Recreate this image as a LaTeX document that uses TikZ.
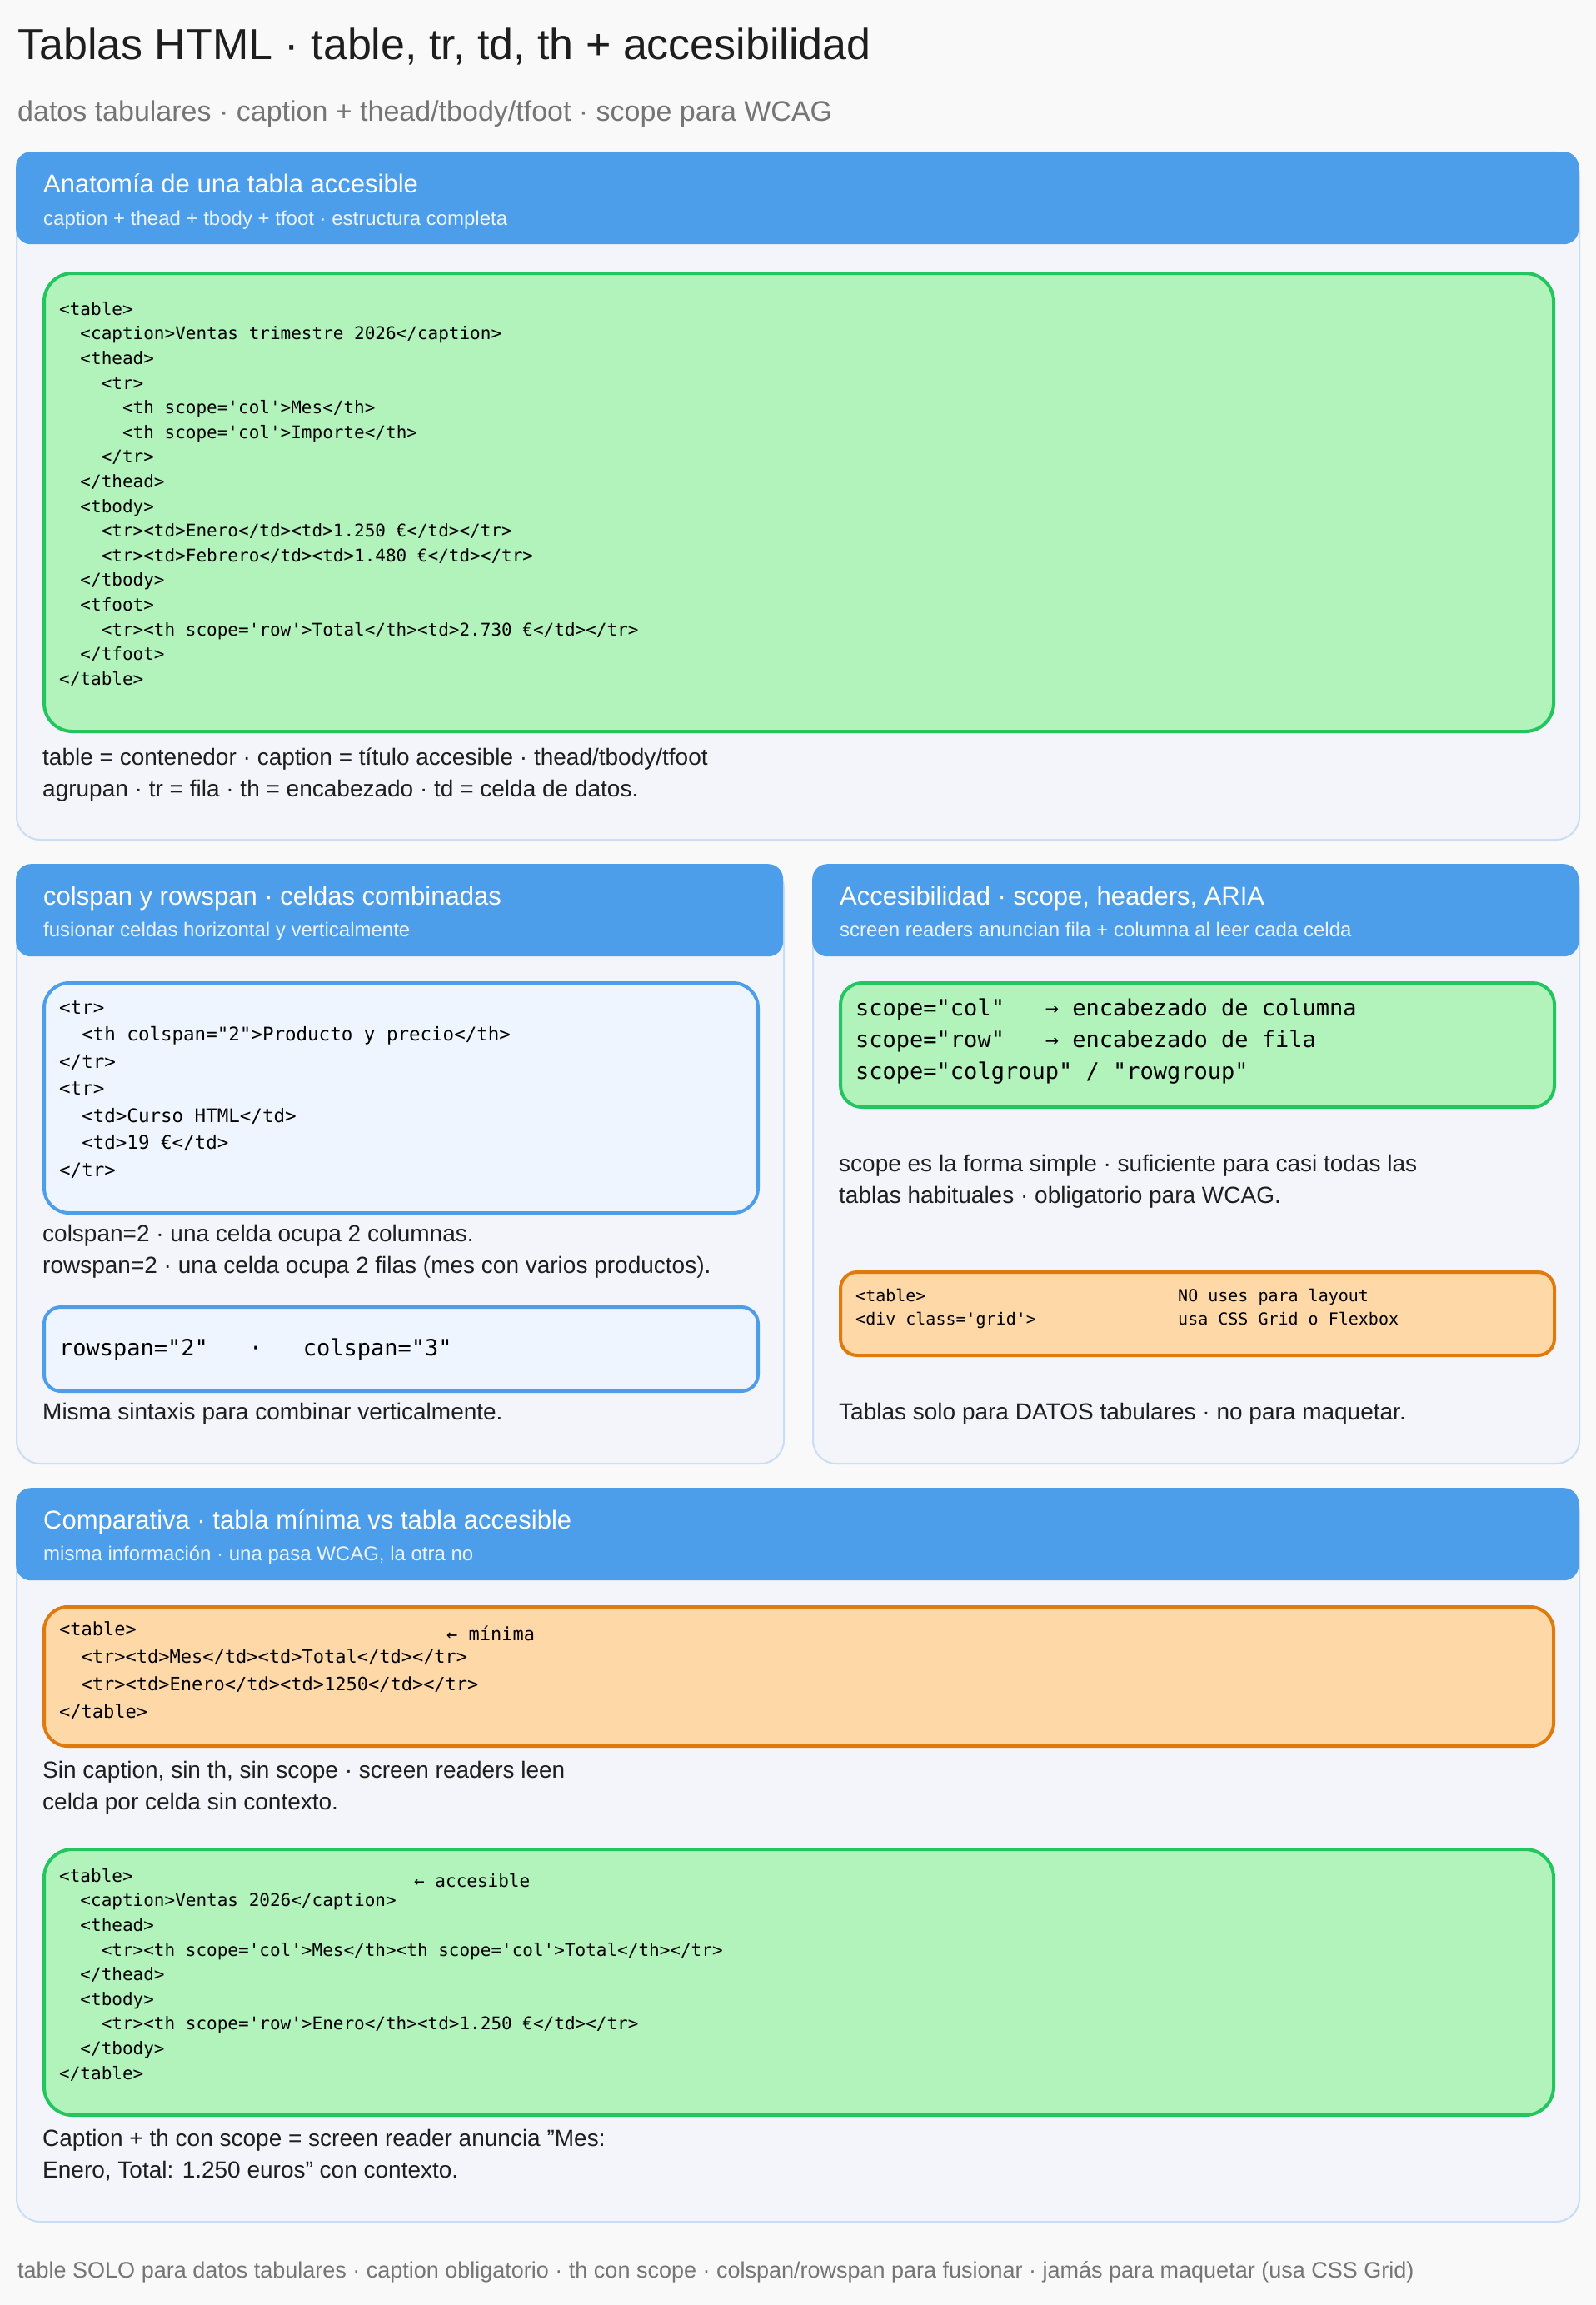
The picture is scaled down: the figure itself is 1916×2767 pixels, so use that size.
\documentclass[tikz,border=0pt]{standalone}
\usepackage{fontspec}
\setmainfont{Liberation Sans}
\setmonofont{DejaVu Sans Mono}
\definecolor{bgc}{HTML}{F9F9F9}
\definecolor{panelc}{HTML}{F3F5FA}
\definecolor{paneld}{HTML}{C9DDF5}
\definecolor{headc}{HTML}{4C9EEB}
\definecolor{greenf}{HTML}{B2F2BB}
\definecolor{greend}{HTML}{22C55E}
\definecolor{orangef}{HTML}{FFD8A8}
\definecolor{oranged}{HTML}{DE7A0E}
\definecolor{bluef}{HTML}{EFF5FF}
\definecolor{inkc}{HTML}{1E1E1E}
\definecolor{grayc}{HTML}{757575}
\newcommand\fsz[1]{\fontsize{#1}{#1}\selectfont}
\tikzset{
  panel/.style={rectangle, rounded corners=28pt, draw=paneld, line width=2pt, fill=panelc, anchor=north west, inner sep=0pt},
  head/.style={rectangle, rounded corners=18pt, fill=headc, anchor=north west, inner sep=0pt},
  greenbox/.style={rectangle, rounded corners=34pt, draw=greend, line width=4pt, fill=greenf, anchor=north west, inner sep=0pt},
  orangebox/.style={rectangle, rounded corners=28pt, draw=oranged, line width=4pt, fill=orangef, anchor=north west, inner sep=0pt},
  bluebox/.style={rectangle, rounded corners=30pt, draw=headc, line width=4pt, fill=bluef, anchor=north west, inner sep=0pt},
  htitle/.style={anchor=base west, inner sep=0pt, text=white, font=\fsz{31}},
  hsub/.style={anchor=base west, inner sep=0pt, text=white!88!headc, font=\fsz{24}},
  body/.style={anchor=north west, inner sep=0pt, text=inkc, align=left, font=\fontsize{28}{37.5}\selectfont},
  code/.style={anchor=north west, inner sep=0pt, text=black, align=left, font=\ttfamily\fontsize{21}{29.6}\selectfont},
}
\begin{document}
\begin{tikzpicture}[x=1pt,y=-1pt]
\fill[bgc] (0,0) rectangle (1916,2767);
\useasboundingbox (0,0) rectangle (1916,2767);
% title
\node[anchor=base west, inner sep=0pt, text=inkc, font=\fsz{52}] (title) at (21,72) {Tablas HTML · table, tr, td, th + accesibilidad};
\node[anchor=base west, inner sep=0pt, text=grayc, font=\fsz{34}] (subtitle) at (21,146) {datos tabulares · caption + thead/tbody/tfoot · scope para WCAG};

% panel 1
\node[panel, minimum width=1876pt, minimum height=825pt] (p1) at (19,182) {};
\node[head, minimum width=1876pt, minimum height=111pt] (h1) at (19,182) {};
\node[htitle] (h1t) at (52,232) {Anatomía de una tabla accesible};
\node[hsub] (h1s) at (52,270) {caption + thead + tbody + tfoot · estructura completa};
\node[greenbox, minimum width=1812pt, minimum height=550pt] (c1) at (51,326) {};
\node[code] (c1t) at (71,362) {<table>\\
\ \ <caption>Ventas trimestre 2026</caption>\\
\ \ <thead>\\
\ \ \ \ <tr>\\
\ \ \ \ \ \ <th scope='col'>Mes</th>\\
\ \ \ \ \ \ <th scope='col'>Importe</th>\\
\ \ \ \ </tr>\\
\ \ </thead>\\
\ \ <tbody>\\
\ \ \ \ <tr><td>Enero</td><td>1.250 €</td></tr>\\
\ \ \ \ <tr><td>Febrero</td><td>1.480 €</td></tr>\\
\ \ </tbody>\\
\ \ <tfoot>\\
\ \ \ \ <tr><th scope='row'>Total</th><td>2.730 €</td></tr>\\
\ \ </tfoot>\\
</table>};
\node[body] (t1) at (51,898) {table = contenedor · caption = título accesible · thead/tbody/tfoot\\agrupan · tr = fila · th = encabezado · td = celda de datos.};

% panel 2
\node[panel, minimum width=921pt, minimum height=719pt] (p2) at (19,1037) {};
\node[head, minimum width=921pt, minimum height=111pt] (h2) at (19,1037) {};
\node[htitle] (h2t) at (52,1086) {colspan y rowspan · celdas combinadas};
\node[hsub] (h2s) at (52,1124) {fusionar celdas horizontal y verticalmente};
\node[bluebox, minimum width=857pt, minimum height=276pt] (c2) at (51,1178) {};
\node[code, font=\ttfamily\fontsize{22.5}{32.5}\selectfont] (c2t) at (71,1201) {<tr>\\
\ \ <th colspan="2">Producto y precio</th>\\
</tr>\\
<tr>\\
\ \ <td>Curso HTML</td>\\
\ \ <td>19 €</td>\\
</tr>};
\node[body] (t2) at (51,1470) {colspan=2 · una celda ocupa 2 columnas.\\rowspan=2 · una celda ocupa 2 filas (mes con varios productos).};
\node[bluebox, minimum width=857pt, minimum height=101pt, rounded corners=20pt] (c3) at (51,1567) {};
\node[anchor=base west, inner sep=0pt, font=\ttfamily\fsz{27}] (c3t) at (71,1627) {rowspan="2"\ \ \ ·\ \ \ colspan="3"};
\node[body] (t3) at (51,1684) {Misma sintaxis para combinar verticalmente.};

% panel 3
\node[panel, minimum width=920pt, minimum height=719pt] (p3) at (975,1037) {};
\node[head, minimum width=920pt, minimum height=111pt] (h3) at (975,1037) {};
\node[htitle] (h3t) at (1008,1086) {Accesibilidad · scope, headers, ARIA};
\node[hsub] (h3s) at (1008,1124) {screen readers anuncian fila + columna al leer cada celda};
\node[greenbox, minimum width=857pt, minimum height=149pt, rounded corners=26pt] (c4) at (1007,1178) {};
\node[code, font=\ttfamily\fontsize{27}{38}\selectfont] (c4t) at (1027,1199) {scope="col"\ \ \ → encabezado de columna\\
scope="row"\ \ \ → encabezado de fila\\
scope="colgroup" / "rowgroup"};
\node[body] (t4) at (1007,1386) {scope es la forma simple · suficiente para casi todas las\\tablas habituales · obligatorio para WCAG.};
\node[orangebox, minimum width=857pt, minimum height=100pt, rounded corners=20pt] (c5) at (1007,1525) {};
\node[code, font=\ttfamily\fontsize{20}{28}\selectfont] (c5a) at (1027,1547) {<table>\\<div class='grid'>};
\node[code, font=\ttfamily\fontsize{20}{28}\selectfont] (c5b) at (1414,1547) {NO uses para layout\\usa CSS Grid o Flexbox};
\node[body] (t5) at (1007,1684) {Tablas solo para DATOS tabulares · no para maquetar.};

% panel 4
\node[panel, minimum width=1876pt, minimum height=880pt] (p4) at (19,1786) {};
\node[head, minimum width=1876pt, minimum height=111pt] (h4) at (19,1786) {};
\node[htitle] (h4t) at (52,1835) {Comparativa · tabla mínima vs tabla accesible};
\node[hsub] (h4s) at (52,1873) {misma información · una pasa WCAG, la otra no};
\node[orangebox, minimum width=1812pt, minimum height=167pt] (c6) at (51,1927) {};
\node[code, font=\ttfamily\fontsize{22}{33}\selectfont] (c6t) at (71,1946) {<table>\\
\ \ <tr><td>Mes</td><td>Total</td></tr>\\
\ \ <tr><td>Enero</td><td>1250</td></tr>\\
</table>};
\node[anchor=base west, inner sep=0pt, font=\ttfamily\fsz{22}] (c6n) at (536,1969) {← mínima};
\node[body] (t6) at (51,2114) {Sin caption, sin th, sin scope · screen readers leen\\celda por celda sin contexto.};
\node[greenbox, minimum width=1812pt, minimum height=319pt] (c7) at (51,2218) {};
\node[code] (c7t) at (71,2243) {<table>\\
\ \ <caption>Ventas 2026</caption>\\
\ \ <thead>\\
\ \ \ \ <tr><th scope='col'>Mes</th><th scope='col'>Total</th></tr>\\
\ \ </thead>\\
\ \ <tbody>\\
\ \ \ \ <tr><th scope='row'>Enero</th><td>1.250 €</td></tr>\\
\ \ </tbody>\\
</table>};
\node[anchor=base west, inner sep=0pt, font=\ttfamily\fsz{21}] (c7n) at (497,2265) {← accesible};
\node[body] (t7) at (51,2556) {Caption + th con scope = screen reader anuncia "Mes:\\Enero, Total: 1.250 euros" con contexto.};

% footer
\node[anchor=base west, inner sep=0pt, text=grayc, font=\fsz{27}] (foot) at (21,2734) {table SOLO para datos tabulares · caption obligatorio · th con scope · colspan/rowspan para fusionar · jamás para maquetar (usa CSS Grid)};
\end{tikzpicture}
\end{document}
